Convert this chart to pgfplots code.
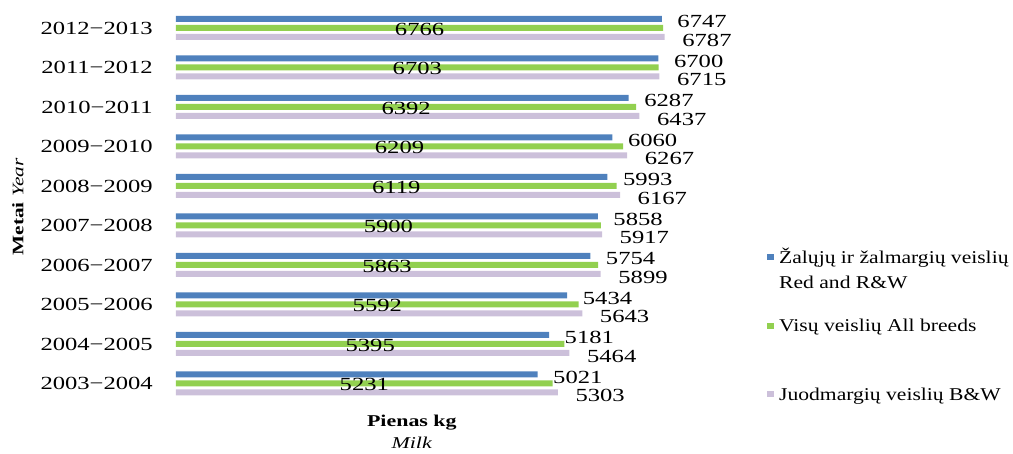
\documentclass[border=0pt]{standalone}
\usepackage{fontspec}
\setmainfont{Liberation Serif}[FakeStretch=1.33]
\newfontfamily\legfont{Liberation Serif}[FakeStretch=1.2]
\usepackage{pgfplots}
\usepackage{pgfplotstable}
\pgfplotsset{compat=1.18}
\definecolor{barblue}{HTML}{4F81BD}
\definecolor{bargreen}{HTML}{92D050}
\definecolor{barlav}{HTML}{CCC0DA}

\pgfplotstableread{
y blue green lav
0 5021 5231 5303
1 5181 5395 5464
2 5434 5592 5643
3 5754 5863 5899
4 5858 5900 5917
5 5993 6119 6167
6 6060 6209 6267
7 6287 6392 6437
8 6700 6703 6715
9 6747 6766 6787
}\data

\newcommand\labfont{\fontsize{18.5}{22}\selectfont}

\begin{document}
\begin{tikzpicture}
\useasboundingbox (0,0) rectangle (1013pt,454pt);
\begin{axis}[
  at={(176pt,46.8pt)}, anchor=south west,
  scale only axis, width=504pt, height=402.9pt,
  xmin=0, xmax=7000, ymin=-0.6, ymax=9.6,
  axis lines*=left,
  axis line style={draw=none},
  xtick=\empty,
  ytick={0,...,9},
  major tick length=0pt,
  tick style={draw=none},
  yticklabels={2003−2004,2004−2005,2005−2006,2006−2007,2007−2008,2008−2009,2009−2010,2010−2011,2011−2012,2012−2013},
  yticklabel style={font=\labfont, anchor=east, inner sep=0pt, xshift=-23pt},
  clip=false,
  xlabel={\textbf{Pienas kg}\\[3pt]\textit{Milk}},
  xlabel style={at={(axis description cs:0.468,-0.0616)}, anchor=center, align=center, font=\fontsize{16.5}{19}\selectfont},
  ylabel={\textbf{Metai} \textit{Year}},
  ylabel style={at={(axis description cs:-0.3135,0.497)}, anchor=center, font=\fontsize{16}{19}\selectfont},
  legend image code/.code={\fill[#1] (0pt,2.8pt) rectangle (6.5pt,9.2pt);},
  legend cell align=left,
  legend style={at={(1.1726,0.3951)}, anchor=north west, draw=none, fill=none,
    font=\legfont\fontsize{18}{25}\selectfont, row sep=50pt, inner sep=0pt,
    cells={anchor=base west, inner sep=1pt, text height=13pt, text depth=4pt},
    /tikz/every odd column/.append style={column sep=3.5pt}},
]
\addplot[xbar, bar width=6pt, bar shift=9pt, fill=barblue, draw=none, forget plot,
  nodes near coords={\pgfplotspointmeta}, point meta=explicit symbolic,
  every node near coord/.append style={anchor=west, inner sep=0pt, xshift=15.5pt, yshift=6.5pt, font=\labfont, text=black}]
  table[x=blue, y=y, meta=blue] {\data};
\addplot[xbar, bar width=6pt, bar shift=0pt, fill=bargreen, draw=none, forget plot]
  table[x=green, y=y] {\data};
\addplot[xbar, bar width=6pt, bar shift=-9pt, fill=barlav, draw=none, forget plot,
  nodes near coords={\pgfplotspointmeta}, point meta=explicit symbolic,
  every node near coord/.append style={anchor=west, inner sep=0pt, xshift=17.5pt, yshift=-12pt, font=\labfont, text=black}]
  table[x=lav, y=y, meta=lav] {\data};
\addplot[draw=none, mark=none, forget plot,
  nodes near coords={\pgfplotspointmeta}, point meta=explicit symbolic,
  every node near coord/.append style={anchor=center, inner sep=0pt, yshift=-1pt, font=\labfont, text=black}]
  table[x expr=\thisrow{green}/2, y=y, meta=green] {\data};
\addlegendimage{fill=barblue, draw=none}
\addlegendentry{\begin{tabular}[t]{@{}l@{}}Žalųjų ir žalmargių veislių\\[0pt]Red and R\&W\end{tabular}}
\addlegendimage{fill=bargreen, draw=none}
\addlegendentry{Visų veislių All breeds}
\addlegendimage{fill=barlav, draw=none}
\addlegendentry{Juodmargių veislių B\&W}
\end{axis}
\end{tikzpicture}
\end{document}
